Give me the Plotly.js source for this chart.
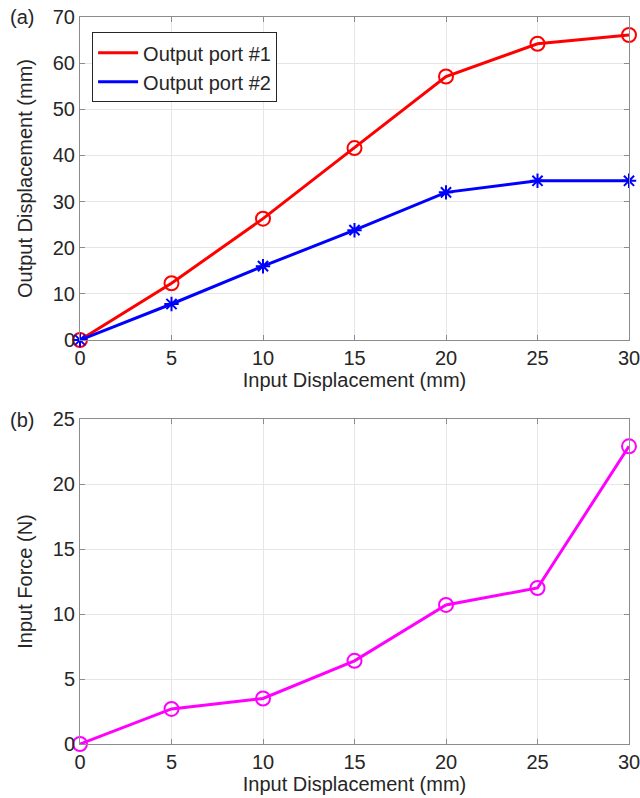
<!DOCTYPE html>
<html>
<head>
<meta charset="utf-8">
<script src="https://cdn.plot.ly/plotly-3.0.1.min.js"></script>
<style>html,body{margin:0;padding:0;background:#fff;}#chart{width:640px;height:798px;}</style>
</head>
<body>
<div id="chart"></div>
<script>
const inputDisp = [0, 5, 10, 15, 20, 25, 30];
const outputPort1 = [0, 12.3, 26.3, 41.6, 57.1, 64.2, 66.1];
const outputPort2 = [0, 7.8, 16.0, 23.8, 32.0, 34.5, 34.5];
const inputForce = [0, 2.7, 3.5, 6.4, 10.7, 12.0, 22.9];
const seriesNames = ["Output port #1", "Output port #2"];
const xTicks = [0, 5, 10, 15, 20, 25, 30];
const yTicksTop = [0, 10, 20, 30, 40, 50, 60, 70];
const yTicksBottom = [0, 5, 10, 15, 20, 25];

const FONT = "Liberation Sans, Arial, sans-serif";
const TXT = "#262626";
const FS = 20;

const traces = [
  {x: inputDisp, y: outputPort1, xaxis: "x", yaxis: "y", mode: "lines+markers", showlegend: false, cliponaxis: false,
   line: {color: "#ff0000", width: 3}, marker: {symbol: "circle-open", size: 14, color: "#ff0000", line: {width: 2, color: "#ff0000"}}},
  {x: inputDisp, y: outputPort2, xaxis: "x", yaxis: "y", mode: "lines+markers", showlegend: false, cliponaxis: false,
   line: {color: "#0000ff", width: 3}, marker: {symbol: "asterisk-open", size: 12, color: "#0000ff", line: {width: 2, color: "#0000ff"}}},
  {x: [null], y: [null], xaxis: "x", yaxis: "y", mode: "lines", name: seriesNames[0], line: {color: "#ff0000", width: 3}},
  {x: [null], y: [null], xaxis: "x", yaxis: "y", mode: "lines", name: seriesNames[1], line: {color: "#0000ff", width: 3}},
  {x: inputDisp, y: inputForce, xaxis: "x2", yaxis: "y2", mode: "lines+markers", showlegend: false, cliponaxis: false,
   line: {color: "#ff00ff", width: 3}, marker: {symbol: "circle-open", size: 14, color: "#ff00ff", line: {width: 2, color: "#ff00ff"}}}
];

function xax(anchor) {
  return {
    anchor: anchor, domain: [0, 1], range: [0, 30], tickvals: xTicks, ticktext: xTicks.map(String),
    showline: true, linecolor: "#8c8c8c", linewidth: 1, mirror: "ticks", ticks: "inside", ticklen: 5, tickcolor: "#8c8c8c",
    showgrid: true, gridcolor: "#e6e6e6", gridwidth: 1, zeroline: false,
    ticklabeloverflow: "allow",
    tickfont: {family: FONT, size: FS, color: TXT},
    title: {text: "Input Displacement (mm)", font: {family: FONT, size: FS, color: TXT}, standoff: 3},
    automargin: false
  };
}
function yax(anchor, dom, range, ticks, title) {
  return {
    anchor: anchor, domain: dom, range: range, tickvals: ticks, ticktext: ticks.map(String),
    showline: true, linecolor: "#8c8c8c", linewidth: 1, mirror: "ticks", ticks: "inside", ticklen: 5, tickcolor: "#8c8c8c",
    showgrid: true, gridcolor: "#e6e6e6", gridwidth: 1, zeroline: false,
    ticklabeloverflow: "allow",
    tickfont: {family: FONT, size: FS, color: TXT},
    title: {text: title, font: {family: FONT, size: FS, color: TXT}, standoff: 14},
    automargin: false
  };
}

const layout = {
  width: 640, height: 798,
  margin: {l: 80, r: 11, t: 17, b: 54},
  paper_bgcolor: "#ffffff", plot_bgcolor: "#ffffff",
  font: {family: FONT, color: TXT},
  xaxis: xax("y"),
  yaxis: yax("x", [0.5557, 1], [0, 70], yTicksTop, "Output Displacement (mm)"),
  xaxis2: xax("y2"),
  yaxis2: yax("x2", [0, 0.447], [0, 25], yTicksBottom, "Input Force (N)"),
  showlegend: true,
  legend: {x: 0.022, y: 0.979, xanchor: "left", yanchor: "top", bgcolor: "#ffffff",
    bordercolor: "#262626", borderwidth: 1, font: {family: FONT, size: FS, color: TXT},
    tracegroupgap: 0, itemwidth: 40},
  annotations: [
    {text: "(a)", xref: "paper", yref: "paper", x: -0.105, y: 1.0, xanchor: "center", yanchor: "middle", showarrow: false, font: {family: FONT, size: FS, color: TXT}},
    {text: "(b)", xref: "paper", yref: "paper", x: -0.105, y: 0.4457, xanchor: "center", yanchor: "middle", showarrow: false, font: {family: FONT, size: FS, color: TXT}}
  ]
};

Plotly.newPlot("chart", traces, layout, {displayModeBar: false, staticPlot: true});
</script>
</body>
</html>
